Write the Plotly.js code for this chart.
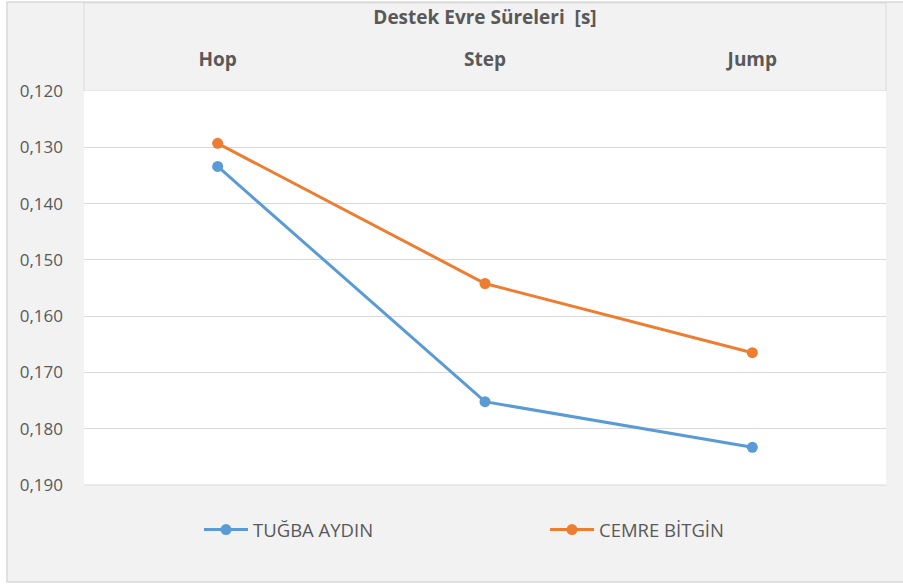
<!DOCTYPE html>
<html>
<head>
<meta charset="utf-8">
<script src="https://cdn.plot.ly/plotly-3.0.1.min.js"></script>
<style>
html,body{margin:0;padding:0;background:#fff;}
#chart{width:903px;height:585px;}
</style>
</head>
<body>
<div id="chart"></div>
<script>
var categories = ["Hop", "Step", "Jump"];
var tugbaValues = [0.1334, 0.1752, 0.1833];
var cemreValues = [0.1293, 0.1542, 0.1665];
var seriesNames = ["TUĞBA AYDIN", "CEMRE BİTGİN"];
var yTicks = [0.12, 0.13, 0.14, 0.15, 0.16, 0.17, 0.18, 0.19];
var chartTitle = "Destek Evre Süreleri  [s]";

var W = 903, H = 585, L = 84, R = 17, T = 91, B = 100;
var pw = W - L - R, ph = H - T - B;
function px(x){ return (x - L) / pw; }
function py(y){ return (H - B - y) / ph; }

var fontFam = '"Open Sans", "DejaVu Sans", sans-serif';
var txtColor = '#595959';

var traces = [
  {
    x: categories, y: tugbaValues, name: seriesNames[0],
    type: 'scatter', mode: 'lines+markers',
    line: {color: '#5b9bd5', width: 3},
    marker: {color: '#5b9bd5', size: 11},
    legend: 'legend'
  },
  {
    x: categories, y: cemreValues, name: seriesNames[1],
    type: 'scatter', mode: 'lines+markers',
    line: {color: '#ed7d31', width: 3},
    marker: {color: '#ed7d31', size: 11},
    legend: 'legend2'
  }
];

var legendCommon = {
  orientation: 'h',
  xanchor: 'left',
  yanchor: 'middle',
  y: py(530),
  bgcolor: 'rgba(0,0,0,0)',
  borderwidth: 0,
  itemwidth: 44,
  font: {family: fontFam, size: 18.5, color: txtColor}
};

var layout = {
  width: W, height: H,
  margin: {l: L, r: R, t: T, b: B, pad: 0},
  paper_bgcolor: '#ffffff',
  plot_bgcolor: '#ffffff',
  separators: ',.',
  font: {family: fontFam, color: txtColor},
  title: {
    text: chartTitle,
    font: {family: fontFam, size: 19, color: txtColor, weight: 'bold'},
    x: 0.5, xref: 'paper', xanchor: 'center',
    y: 1 - 17 / H, yref: 'container', yanchor: 'middle'
  },
  xaxis: {
    type: 'category',
    side: 'top',
    range: [-0.5, 2.5],
    showgrid: false, showline: false, zeroline: false,
    ticks: '',
    ticklabelstandoff: 20,
    tickfont: {family: fontFam, size: 19, color: txtColor, weight: 'bold'},
    fixedrange: true
  },
  yaxis: {
    range: [0.19, 0.12],
    tickvals: yTicks,
    tickformat: '.3f',
    showgrid: true, gridcolor: '#d9d9d9', gridwidth: 1,
    showline: false, zeroline: false,
    ticks: '',
    ticklabelstandoff: 20,
    tickfont: {family: fontFam, size: 17, color: txtColor},
    fixedrange: true
  },
  showlegend: true,
  legend: Object.assign({}, legendCommon, {x: px(199)}),
  legend2: Object.assign({}, legendCommon, {x: px(545)}),
  shapes: [
    {
      type: 'rect', xref: 'paper', yref: 'paper', layer: 'below',
      x0: px(7), x1: px(906), y0: py(582), y1: py(2),
      fillcolor: '#f2f2f2', line: {color: '#d9d9d9', width: 1.5}
    },
    {
      type: 'rect', xref: 'paper', yref: 'paper', layer: 'below',
      x0: 0, x1: 1, y0: 1, y1: py(3),
      fillcolor: '#f2f2f2', line: {color: '#d9d9d9', width: 1}
    },
    {
      type: 'rect', xref: 'paper', yref: 'paper', layer: 'below',
      x0: 0, x1: 1, y0: 0, y1: 1,
      fillcolor: '#ffffff', line: {width: 0}
    },
    {
      type: 'line', xref: 'paper', yref: 'paper', layer: 'below',
      x0: 0, x1: 1, y0: 0, y1: 0,
      line: {color: '#d9d9d9', width: 1}
    }
  ]
};

Plotly.newPlot('chart', traces, layout, {displayModeBar: false, staticPlot: true});
</script>
</body>
</html>
